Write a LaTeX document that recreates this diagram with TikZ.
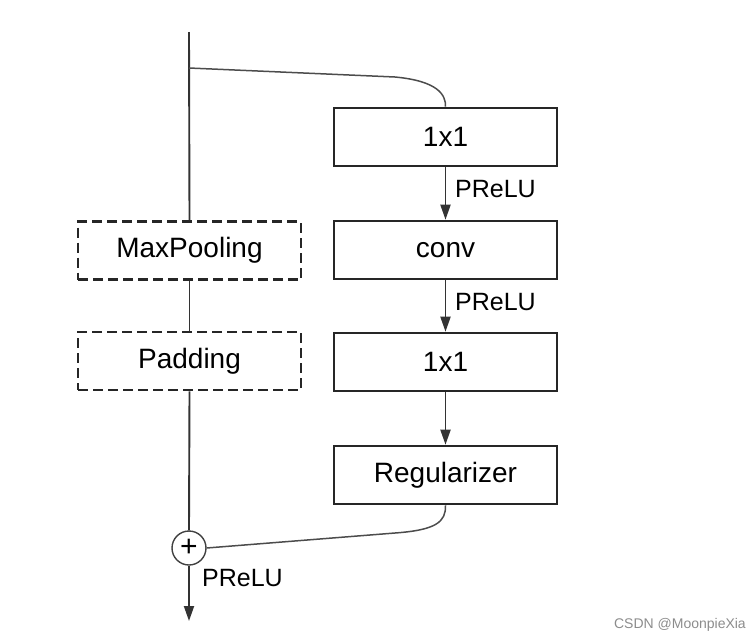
\documentclass[tikz,border=0pt]{standalone}
\usepackage{fontspec}
\setmainfont{Liberation Sans}
\usetikzlibrary{arrows.meta}
\begin{document}
\begin{tikzpicture}[x=1pt,y=-1pt,
  box/.style={draw=black!85,line width=2.6pt,minimum width=223pt,minimum height=58pt,inner sep=0pt,font=\fontsize{28}{30}\selectfont},
  dbox/.style={box,dash pattern=on 10pt off 5pt},
  conn/.style={draw=black!80,line width=1.9pt},
  arr/.style={conn,-{Triangle[length=15pt,width=10pt]}},
  lab/.style={font=\fontsize{25}{28}\selectfont,inner sep=0pt,anchor=west},
  skip/.style={draw=black!70,line width=1.5pt}]
\useasboundingbox (0,0) rectangle (755,643);
\node[box] (a) at (445.5,137) {1x1};
\node[box] (b) at (445.5,250) {conv};
\node[box] (c) at (445.5,362) {1x1};
\node[box] (d) at (445.5,475) {Regularizer};
\node[dbox] (mp) at (189.5,250.5) {MaxPooling};
\node[dbox] (pd) at (189.5,361) {Padding};
\node[draw=black!75,line width=1.4pt,circle,minimum size=34pt,inner sep=0pt,font=\fontsize{30}{30}\selectfont] (plus) at (189,548) {+};
\coordinate (top) at (189,32);
\coordinate (br) at (189,68);
\coordinate (out) at (189,621);
\draw[conn] (top) -- (mp.north);
\draw[conn] (mp.south) -- (pd.north);
\draw[conn] (pd.south) -- (plus.north);
\draw[arr] (plus.south) -- (out);
\draw[arr] (a.south) -- (b.north);
\draw[arr] (b.south) -- (c.north);
\draw[arr] (c.south) -- (d.north);
\draw[skip] (br) -- (395,77) .. controls (438,81) and (446,95) .. (a.north);
\draw[skip] (d.south) .. controls (446,522) and (436,530) .. (395,533) -- (plus.east);
\node[lab] (l1) at (455,189) {PReLU};
\node[lab] (l2) at (455,302) {PReLU};
\node[lab] (l3) at (202,578) {PReLU};
\node[font=\fontsize{14}{16}\selectfont,text=black!45,anchor=east,inner sep=0pt] (wm) at (746,625) {CSDN @MoonpieXia};
\end{tikzpicture}
\end{document}
